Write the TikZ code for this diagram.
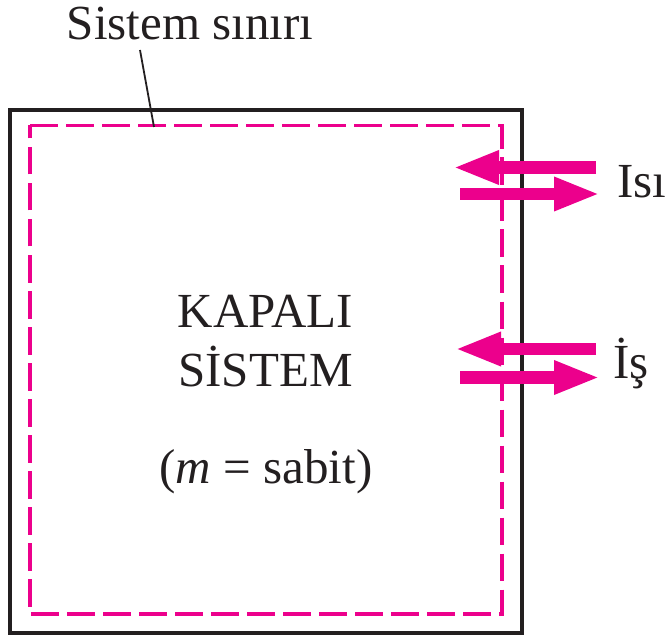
\documentclass[tikz,border=0pt]{standalone}
\usepackage{fontspec}
\setmainfont{Liberation Serif}
\usetikzlibrary{arrows.meta}
\definecolor{mag}{HTML}{EC008C}
\definecolor{blk}{HTML}{231F20}
\begin{document}
\begin{tikzpicture}[x=1pt,y=-1pt,
  txt/.style={font=\fontsize{49}{59}\selectfont, text=blk, inner sep=0pt},
  flow/.style={mag, line width=12.5pt, -{Triangle[length=46pt,width=31pt]}},
  outerbox/.style={blk, line width=4pt},
  boundary/.style={mag, line width=3.6pt, dash pattern=on 27.5pt off 8.5pt},
  leader/.style={blk, line width=1.8pt}]
\useasboundingbox (0,0) rectangle (669,636);
% outer wall and system boundary
\draw[outerbox] (10,110) rectangle (522,633);
\draw[boundary] (30,125.5) -- (502,125.5) -- (502,614) -- (30,614) -- cycle;
% label of boundary
\node[txt, anchor=base] (sinir) at (190,40) {Sistem sınırı};
\coordinate (ls) at (140,50);
\coordinate (le) at (154,127);
\draw[leader] (ls) -- (le);
% centre text
\node[txt, anchor=base] (kapali) at (265.5,327) {KAPALI};
\node[txt, anchor=base] (sistem) at (265.5,386) {SİSTEM};
\node[txt, anchor=base] (sabit) at (266,483) {(\textit{m} = sabit)};
% heat arrows
\coordinate (h1s) at (596,167.5);
\coordinate (h1e) at (453,167.5);
\coordinate (h2s) at (460,194);
\coordinate (h2e) at (600,194);
\draw[flow] (h1s) -- (h1e);
\draw[flow] (h2s) -- (h2e);
\node[txt, anchor=base west] (isi) at (617,198) {Isı};
% work arrows
\coordinate (w1s) at (596,349);
\coordinate (w1e) at (455,349);
\coordinate (w2s) at (460,377.5);
\coordinate (w2e) at (600,377.5);
\draw[flow] (w1s) -- (w1e);
\draw[flow] (w2s) -- (w2e);
\node[txt, anchor=base west] (is) at (613,378) {İş};
\end{tikzpicture}
\end{document}
